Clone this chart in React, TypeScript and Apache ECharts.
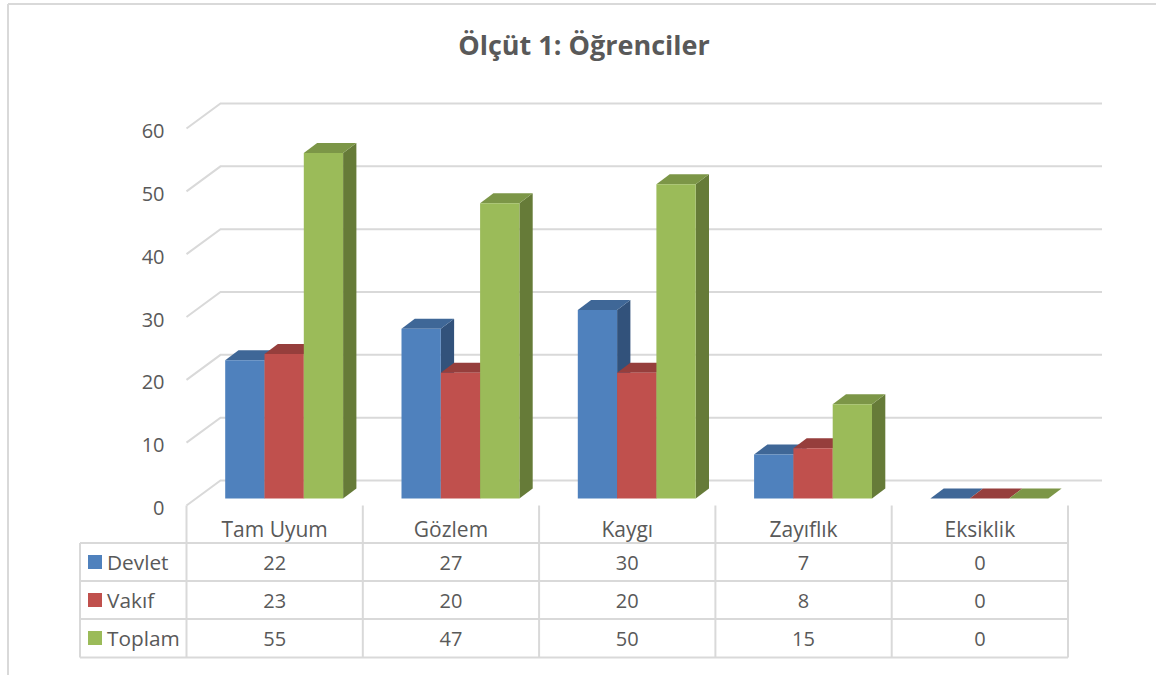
import React, { useEffect, useRef } from "react";
import * as echarts from "echarts";

const titleText = "Ölçüt 1: Öğrenciler";
const categories = ["Tam Uyum", "Gözlem", "Kaygı", "Zayıflık", "Eksiklik"];
const seriesNames = ["Devlet", "Vakıf", "Toplam"];
const devlet = [22, 27, 30, 7, 0];
const vakif = [23, 20, 20, 8, 0];
const toplam = [55, 47, 50, 15, 0];
const yTicks = [0, 10, 20, 30, 40, 50, 60];

const seriesValues = [devlet, vakif, toplam];
const frontColors = ["#4F81BD", "#C0504D", "#9BBB59"];
const topColors = ["#3F6797", "#963E3C", "#7C9647"];
const sideColors = ["#32527B", "#7A3230", "#667B38"];

const FONT = "'Open Sans', sans-serif";
const TEXT = "#595959";
const LINE = "#D9D9D9";

// Pseudo-3D geometry (pixels)
const WALL_DX = 34;
const WALL_DY = 25;
const PLANE_DX = 9.5;
const PLANE_DY = 7;
const DEPTH_DX = 13.3;
const DEPTH_DY = 10;
const BAR_RATIO = 39.3 / 176.3;

const GRID_LEFT = 186.5;
const GRID_RIGHT_EDGE = 1068;
const GRID_TOP = 128.5;
const GRID_BOTTOM_Y = 505.5;

const TABLE_LEFT = 80;
const ROW_LINES = [543, 581, 619, 657.5];
const ROW_CENTERS = [562, 600, 638];

function wallRender(params: any, api: any) {
  const v = api.value(1);
  const [, y] = api.coord([0, v]);
  const cs = params.coordSys;
  return {
    type: "polyline",
    shape: {
      points: [
        [cs.x, y],
        [cs.x + WALL_DX, y - WALL_DY],
        [cs.x + cs.width + WALL_DX, y - WALL_DY],
      ],
    },
    style: { stroke: LINE, lineWidth: 2, fill: "none" },
  };
}

function barRender(idx: number) {
  return (_params: any, api: any) => {
    const cat = api.value(0);
    const val = api.value(1);
    const [cx, yTop0] = api.coord([cat, val]);
    const [, yBase0] = api.coord([cat, 0]);
    const band = api.size([1, 0])[0];
    const w = band * BAR_RATIO;
    const x0 = cx + (idx - 1.5) * w + PLANE_DX;
    const x1 = x0 + w;
    const yTop = yTop0 - PLANE_DY;
    const yBase = yBase0 - PLANE_DY;
    const children: any[] = [];
    children.push({
      type: "polygon",
      shape: {
        points: [
          [x1, yBase],
          [x1 + DEPTH_DX, yBase - DEPTH_DY],
          [x1 + DEPTH_DX, yTop - DEPTH_DY],
          [x1, yTop],
        ],
      },
      style: { fill: sideColors[idx] },
    });
    children.push({
      type: "polygon",
      shape: {
        points: [
          [x0, yTop],
          [x1, yTop],
          [x1 + DEPTH_DX, yTop - DEPTH_DY],
          [x0 + DEPTH_DX, yTop - DEPTH_DY],
        ],
      },
      style: { fill: topColors[idx] },
    });
    if (val > 0) {
      children.push({
        type: "rect",
        shape: { x: x0, y: yTop, width: w, height: yBase - yTop },
        style: { fill: frontColors[idx] },
      });
    }
    return { type: "group", children };
  };
}

function rowRender(rowIdx: number) {
  return (_params: any, api: any) => {
    const [cx] = api.coord([api.value(0), 0]);
    return {
      type: "text",
      style: {
        text: String(api.value(1)),
        x: cx,
        y: ROW_CENTERS[rowIdx],
        align: "center",
        verticalAlign: "middle",
        fill: TEXT,
        font: `20px ${FONT}`,
      },
    };
  };
}

export default function App() {
  const ref = useRef<HTMLDivElement | null>(null);

  useEffect(() => {
    if (!ref.current) return;
    const chart = echarts.init(ref.current, undefined, { renderer: "svg" });

    const graphic: any[] = [];
    const line = (x1: number, y1: number, x2: number, y2: number) =>
      graphic.push({
        type: "line",
        shape: { x1, y1, x2, y2 },
        style: { stroke: LINE, lineWidth: 2 },
        silent: true,
      });
    // Outer chart border (top and left only are inside the picture)
    line(8, 4, 1156, 4);
    line(8, 4, 8, 675);
    // Data table
    ROW_LINES.forEach((y) => line(TABLE_LEFT, y, GRID_RIGHT_EDGE, y));
    line(TABLE_LEFT, ROW_LINES[0], TABLE_LEFT, ROW_LINES[3]);
    const colW = (GRID_RIGHT_EDGE - GRID_LEFT) / categories.length;
    for (let i = 0; i <= categories.length; i++) {
      const x = GRID_LEFT + i * colW;
      line(x, GRID_BOTTOM_Y, x, ROW_LINES[3]);
    }
    seriesNames.forEach((name, i) => {
      graphic.push({
        type: "rect",
        shape: { x: 88, y: ROW_CENTERS[i] - 7, width: 14, height: 14 },
        style: { fill: frontColors[i] },
      });
      graphic.push({
        type: "text",
        style: {
          text: name,
          x: 107,
          y: ROW_CENTERS[i],
          verticalAlign: "middle",
          fill: TEXT,
          font: `20.8px ${FONT}`,
        },
      });
    });

    chart.setOption({
      animation: false,
      backgroundColor: "#ffffff",
      title: {
        text: titleText,
        left: 579,
        top: 26,
        textAlign: "center",
        textStyle: { color: TEXT, fontFamily: FONT, fontWeight: "bold", fontSize: 27 },
      },
      grid: {
        left: GRID_LEFT,
        top: GRID_TOP,
        width: GRID_RIGHT_EDGE - GRID_LEFT,
        height: GRID_BOTTOM_Y - GRID_TOP,
      },
      xAxis: {
        type: "category",
        data: categories,
        axisLine: { show: false },
        axisTick: { show: false },
        axisLabel: { color: TEXT, fontFamily: FONT, fontSize: 21, margin: 13 },
      },
      yAxis: {
        type: "value",
        min: 0,
        max: 60,
        interval: 10,
        axisLine: { show: false },
        axisTick: { show: false },
        splitLine: { show: false },
        axisLabel: {
          color: TEXT,
          fontFamily: FONT,
          fontSize: 20,
          margin: 22,
          formatter: (v: number) => `{t|${v}}`,
          rich: {
            t: { color: TEXT, fontFamily: FONT, fontSize: 20, padding: [4, 0, 0, 0] },
          },
        },
      },
      graphic,
      series: [
        {
          type: "custom",
          name: "wall",
          silent: true,
          clip: false,
          renderItem: wallRender,
          data: yTicks.map((v) => [0, v]),
          encode: { x: 0, y: 1 },
        },
        ...seriesNames.map((name, i) => ({
          type: "custom",
          name,
          clip: false,
          renderItem: barRender(i),
          data: seriesValues[i].map((v, c) => [c, v]),
          encode: { x: 0, y: 1 },
        })),
        ...seriesNames.map((name, i) => ({
          type: "custom",
          name: name + " tablo",
          silent: true,
          clip: false,
          renderItem: rowRender(i),
          data: seriesValues[i].map((v, c) => [c, v]),
          encode: { x: 0, y: 1 },
        })),
      ],
    });
    return () => chart.dispose();
  }, []);

  return (
    <div
      ref={ref}
      style={{ position: "fixed", left: 0, top: 0, width: 1156, height: 675, background: "#fff" }}
    />
  );
}
